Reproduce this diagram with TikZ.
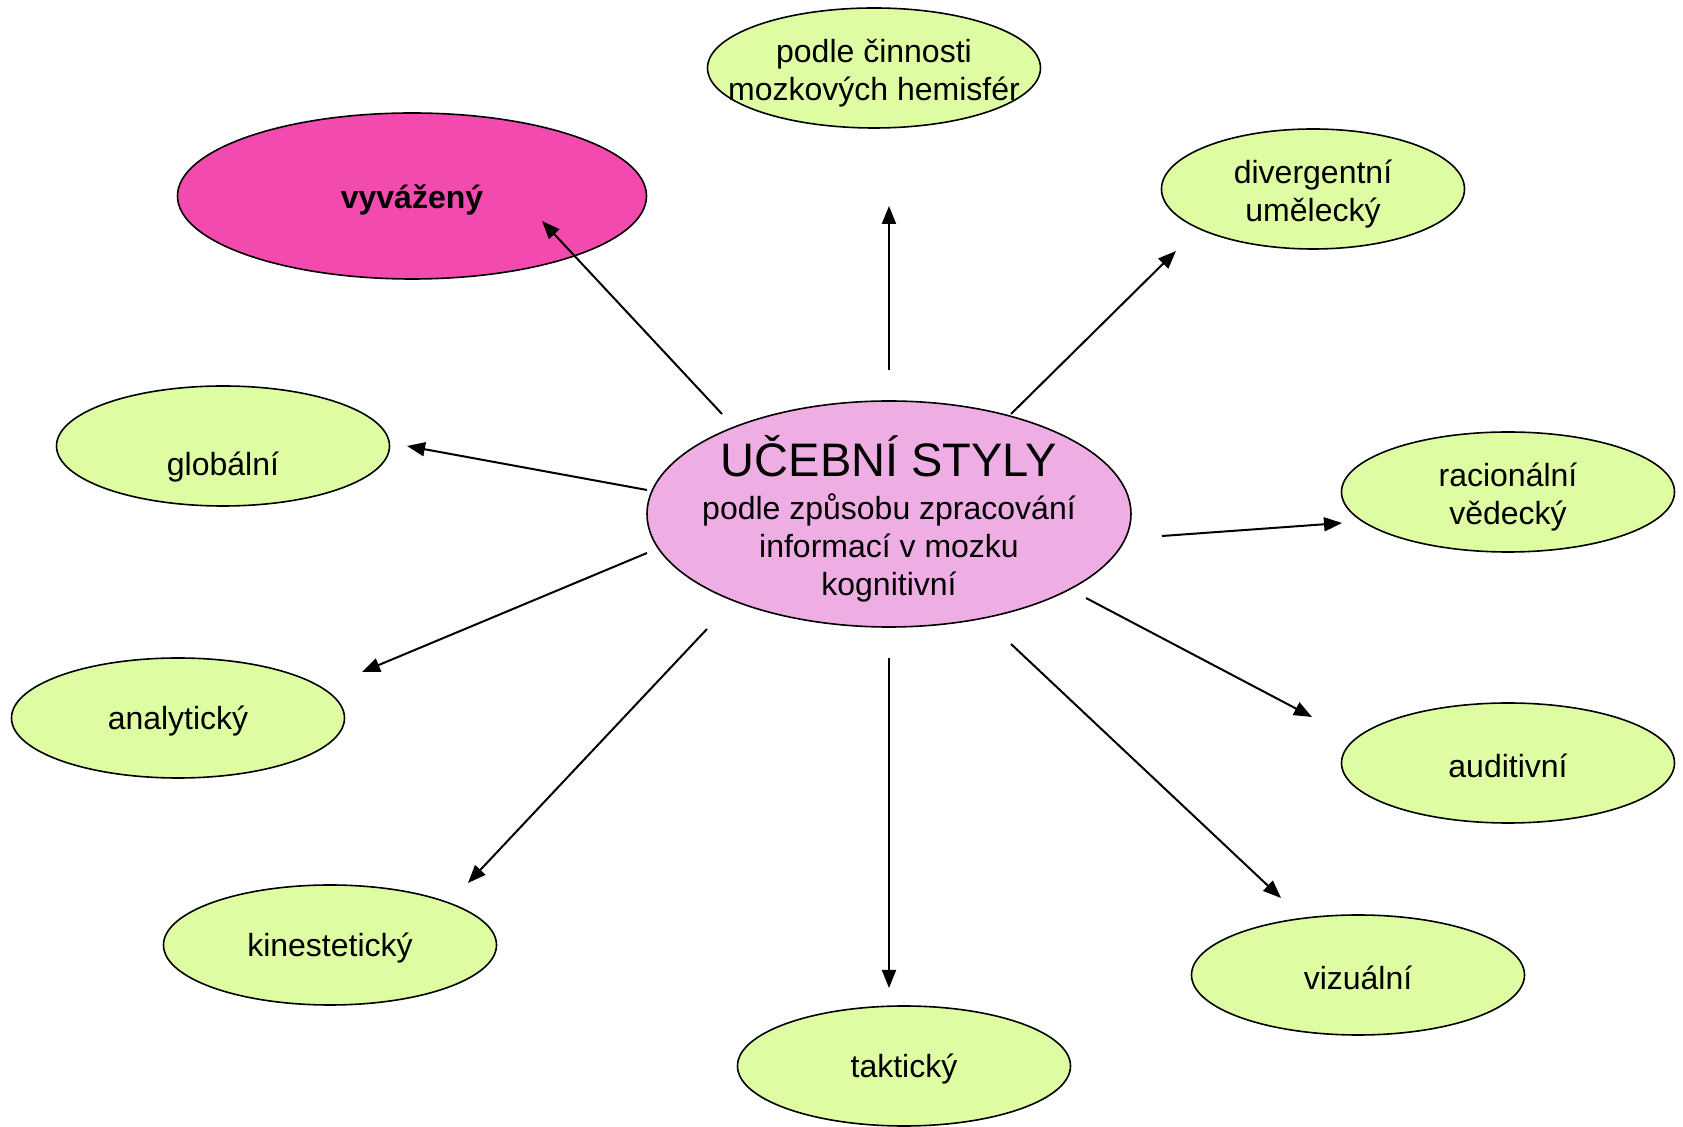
\documentclass[tikz,border=0pt]{standalone}
\usepackage{fontspec}
\setmainfont{Liberation Sans}
\usetikzlibrary{shapes.geometric,arrows.meta}
\definecolor{leafgreen}{RGB}{222,252,162}
\definecolor{hotpink}{RGB}{242,74,174}
\definecolor{softpink}{RGB}{238,174,228}
% strut to push a label a little down in its ellipse
\newcommand{\tstrut}[1]{\rule{0pt}{#1}}

\begin{document}
\begin{tikzpicture}[
	x=0.5pt, y=-0.5pt,
	every node/.style={font=\fontsize{16}{19}\selectfont},
	leaf/.style={ellipse, draw, line width=0.8pt, fill=leafgreen,
		minimum width=166.5pt, minimum height=60pt, inner sep=0pt, align=center},
	arr/.style={line width=1pt, -{Triangle[length=9pt,width=7pt]}},
	]
\useasboundingbox (0,0) rectangle (1683,1127);

\node [ellipse,draw,line width=0.8pt,fill=softpink,minimum width=242pt,minimum height=113pt,
       inner xsep=-10pt,inner ysep=-6pt,align=center] (ucebni) at (889,514)
  {{\fontsize{23.5}{24}\selectfont\tstrut{25.5pt}UČEBNÍ STYLY}\\[2.3pt]
   podle způsobu zpracování\\ informací v mozku\\ kognitivní};

\node [leaf,fill=hotpink,minimum width=234.5pt,minimum height=83pt,font=\fontsize{16}{19}\selectfont\bfseries] (vyv) at (412,196) {\tstrut{16pt}vyvážený};
\node [leaf,inner xsep=-20pt] (hem) at (874,68) {\tstrut{17pt}podle činnosti\\ mozkových hemisfér};
\node [leaf,minimum width=151.5pt] (div) at (1313,189) {\tstrut{17pt}divergentní\\ umělecký};
\node [leaf] (glob) at (223,446) {\tstrut{33pt}globální};
\node [leaf] (rac) at (1508,492) {\tstrut{17pt}racionální\\ vědecký};
\node [leaf] (anal) at (178,718) {\tstrut{15pt}analytický};
\node [leaf] (aud) at (1508,763) {\tstrut{15pt}auditivní};
\node [leaf] (kin) at (330,945) {\tstrut{15pt}kinestetický};
\node [leaf] (viz) at (1358,975) {\tstrut{15pt}vizuální};
\node [leaf] (takt) at (904,1066) {\tstrut{15pt}taktický};

% arrow ends
\coordinate (vyv-s) at (722,414);  \coordinate (vyv-e) at (542,221);
\coordinate (hem-s) at (889,370);  \coordinate (hem-e) at (889,206);
\coordinate (div-s) at (1011,414); \coordinate (div-e) at (1176,251);
\coordinate (glob-s) at (647,490); \coordinate (glob-e) at (407,446);
\coordinate (rac-s) at (1162,536); \coordinate (rac-e) at (1342,523);
\coordinate (anal-s) at (647,553); \coordinate (anal-e) at (362,672);
\coordinate (aud-s) at (1086,598); \coordinate (aud-e) at (1312,717);
\coordinate (kin-s) at (707,629);  \coordinate (kin-e) at (468,883);
\coordinate (takt-s) at (889,658); \coordinate (takt-e) at (889,988);
\coordinate (viz-s) at (1011,644); \coordinate (viz-e) at (1281,898);

\draw[arr] (vyv-s) -- (vyv-e);
\draw[arr] (hem-s) -- (hem-e);
\draw[arr] (div-s) -- (div-e);
\draw[arr] (glob-s) -- (glob-e);
\draw[arr] (rac-s) -- (rac-e);
\draw[arr] (anal-s) -- (anal-e);
\draw[arr] (aud-s) -- (aud-e);
\draw[arr] (kin-s) -- (kin-e);
\draw[arr] (takt-s) -- (takt-e);
\draw[arr] (viz-s) -- (viz-e);
\end{tikzpicture}
\end{document}
